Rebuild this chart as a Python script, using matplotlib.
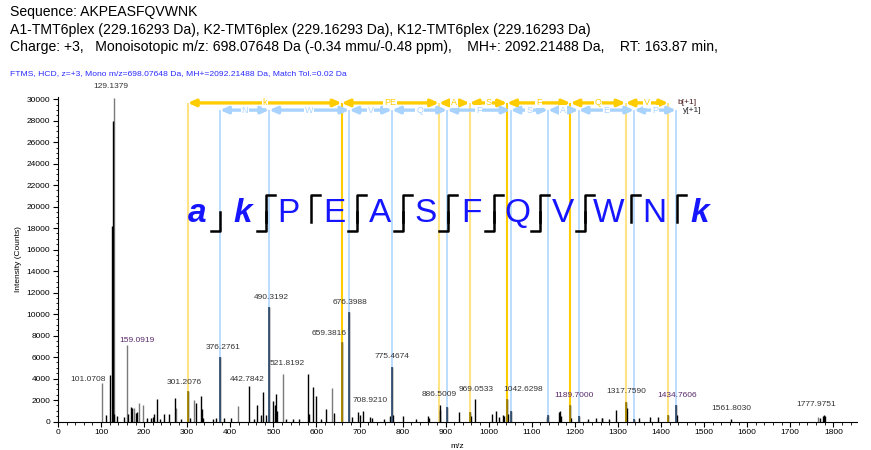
import matplotlib
matplotlib.use("Agg")
import matplotlib.pyplot as plt
from matplotlib.lines import Line2D

plt.rcParams['font.family'] = ['Liberation Sans', 'DejaVu Sans']

# ---- spectrum peaks (m/z, intensity) ----
black_mz = [110.5, 120.08, 126.13, 127.13, 130.14, 137.5, 153, 162, 168.4, 172, 180, 184,
            206, 215, 221, 224, 229.5, 237, 245, 257, 272, 285, 301.21, 306, 321, 331, 334,
            337, 360, 367, 376.28, 385, 402, 442.78, 454, 461, 471, 476, 484, 490.32, 500,
            503, 506, 509, 530, 545, 560, 580, 583, 592, 598, 610, 623, 640, 658.46, 676.40,
            682, 697, 700, 708.92, 725, 730, 758, 771, 775.47, 778, 800, 831, 858, 862,
            886.50, 888, 903.53, 930, 955.6, 958, 969.05, 1007, 1017, 1025, 1032, 1036,
            1042.63, 1045, 1050.6, 1136, 1138, 1164, 1166, 1168, 1189.70, 1192, 1208.7, 1230,
            1250, 1262, 1264, 1280, 1295, 1317.76, 1320, 1337.7, 1350, 1375, 1392, 1416.8,
            1434.76, 1437, 1561.80, 1768, 1775, 1777.98, 1781]
black_int = [600, 4300, 18200, 28000, 700, 550, 450, 700, 1350, 1300, 800, 900,
             350, 300, 400, 700, 2100, 250, 700, 700, 2200, 250, 2800, 300, 1750, 2350, 1200,
             350, 250, 350, 6000, 300, 300, 3300, 250, 1550, 650, 2700, 600, 10700, 1900,
             1550, 2550, 1000, 250, 200, 200, 4400, 700, 3200, 2400, 250, 1150, 800, 7400, 10200,
             450, 900, 600, 1000, 450, 300, 200, 500, 5100, 600, 500, 200, 500, 300,
             1540, 1100, 1380, 850, 900, 500, 2050, 700, 1000, 400, 600, 500,
             2050, 700, 950, 400, 650, 900, 950, 500, 1490, 300, 500, 200,
             300, 350, 350, 200, 1050, 1800, 1300, 250, 300, 400, 400, 650,
             1500, 600, 250, 350, 500, 570, 550]

grey_mz = [101.07, 129.14, 159.09, 176, 188, 198, 275, 315, 418, 521.82, 636, 1765]
grey_int = [3600, 30100, 7100, 1300, 1700, 1500, 1300, 2000, 1450, 4400, 3100, 450]

# ---- fragment ions ----
b_ions = [301.21, 658.47, 884.51, 955.55, 1042.58, 1189.65, 1317.71, 1416.78]
b_strong = [658.47, 1042.58, 1189.65]
b_seg_labels = ['k', 'PE', 'A', 'S', 'F', 'Q', 'V']
y_ions = [376.28, 490.32, 676.40, 775.47, 903.53, 1050.59, 1137.63, 1208.66, 1337.71, 1434.76]
y_seg_labels = ['N', 'W', 'V', 'Q', 'F', 'S', 'A', 'E', 'P']

# ---- peak labels: (m/z, intensity, text, dx px, dy px) ----
label_mz = [129.14, 101.07, 159.09, 301.21, 376.28, 442.78, 490.32, 521.82, 658.46, 676.40,
            708.92, 775.47, 886.50, 969.05, 1042.63, 1189.70, 1317.76, 1434.76, 1561.80, 1777.98]
label_int = [30100, 3600, 7100, 2800, 6000, 3300, 10700, 4400, 7400, 10200,
             1000, 5100, 1540, 2050, 2050, 1490, 1800, 1500, 250, 570]
label_txt = ['129.1379', '101.0708', '159.0919', '301.2076', '376.2761', '442.7842', '490.3192',
             '521.8192', '659.3816', '676.3988', '708.9210', '775.4674', '886.5009', '969.0533',
             '1042.6298', '1189.7000', '1317.7590', '1434.7606', '1561.8030', '1777.9751']
label_dx = [-3, -14, 10, -4, 3, -2, 2, 4, -12, 1, 7, 0, -1, 1, 16, 4, 1, 1, 1, -8]
label_dy = [8, 0, 1, 5, 6, 3, 6, 7, 5, 6, 7, 7, 7, 6, 6, 6, 7, 6, 7, 7]
purple_labels = ['159.0919', '1189.7000', '1434.7606']

sequence = ['a', 'k', 'P', 'E', 'A', 'S', 'F', 'Q', 'V', 'W', 'N', 'k']
b_gaps = [1, 2, 4, 5, 6, 7, 8, 9]
y_gaps = [2, 3, 4, 5, 6, 7, 8, 9, 10, 11]

W, H = 871, 450
fig = plt.figure(figsize=(W / 100, H / 100), dpi=100)
ax = fig.add_axes([58 / W, 28.5 / H, 799 / W, 324.5 / H])
ax.set_xlim(0, 1855)
ax.set_ylim(0, 30200)

# ion lines
for mz in b_ions:
    c = '#FFCC00' if mz in b_strong else '#FFE385'
    ax.vlines(mz, 0, 29650, color=c, lw=1.5, zorder=1)
for mz in y_ions:
    ax.vlines(mz, 0, 28980, color='#A9D3FF', lw=1.1, zorder=1)

# peaks
ax.vlines(grey_mz, 0, grey_int, color='#7a7a7a', lw=1.0, zorder=2)
ax.vlines(black_mz, 0, black_int, color='black', lw=1.0, zorder=3)
for mz, it in zip(black_mz, black_int):
    if any(abs(mz - b) < 1.5 for b in b_ions):
        ax.vlines(mz, 0, it, color='#a88a00', lw=1.3, zorder=4)
    elif any(abs(mz - y) < 1.5 for y in y_ions):
        ax.vlines(mz, 0, it, color='#3c5878', lw=1.3, zorder=4)

for mz, it, t, dx, dy in zip(label_mz, label_int, label_txt, label_dx, label_dy):
    col = '#5a2a6a' if t in purple_labels else '#333333'
    ax.annotate(t, (mz, it), xytext=(dx, dy), textcoords='offset pixels',
                ha='center', va='bottom', fontsize=6, color=col, zorder=6)

# fragment bars
def frag_bar(ions, labels, y, color):
    for i, lab in enumerate(labels):
        x0, x1 = ions[i], ions[i + 1]
        ax.annotate('', xy=(x1, y), xytext=(x0, y),
                    arrowprops=dict(arrowstyle='<|-|>,head_length=0.45,head_width=0.2',
                                    color=color, lw=2.4, shrinkA=0, shrinkB=0),
                    annotation_clip=False, zorder=5)
        ax.text((x0 + x1) / 2, y, lab, ha='center', va='center', fontsize=6.5, color=color,
                bbox=dict(facecolor='white', edgecolor='none', pad=0.6), zorder=6)

frag_bar(b_ions, b_seg_labels, 29650, '#FFCC00')
frag_bar(y_ions, y_seg_labels, 28980, '#A9D3FF')
ax.text(1437, 29650, 'b[+1]', fontsize=6, color='#4a1a1a', va='center', ha='left')
ax.text(1452, 28900, 'y[+1]', fontsize=6, color='#222222', va='center', ha='left')

# axes styling
for s in ['top', 'right']:
    ax.spines[s].set_visible(False)
ax.set_xticks(range(0, 1801, 100))
ax.set_xticks(range(0, 1855, 20), minor=True)
ax.set_yticks(range(0, 30001, 2000))
ax.set_yticks(range(0, 30001, 500), minor=True)
ax.tick_params(labelsize=6, length=3.5, width=0.8, pad=2)
ax.tick_params(which='minor', length=1.8, width=0.6)
ax.set_xlabel('m/z', fontsize=6, labelpad=5)
ax.set_ylabel('Intensity (Counts)', fontsize=6, labelpad=3)

# header
fig.text(10 / W, 1 - 12 / H, 'Sequence: AKPEASFQVWNK', fontsize=10.1, va='center')
fig.text(10 / W, 1 - 30 / H, 'A1-TMT6plex (229.16293 Da), K2-TMT6plex (229.16293 Da), '
         'K12-TMT6plex (229.16293 Da)', fontsize=10.1, va='center')
fig.text(10 / W, 1 - 47 / H, 'Charge: +3,   Monoisotopic m/z: 698.07648 Da (-0.34 mmu/-0.48 ppm),'
         '    MH+: 2092.21488 Da,    RT: 163.87 min,', fontsize=10.1, va='center')
fig.text(10 / W, 1 - 74 / H, 'FTMS, HCD, z=+3, Mono m/z=698.07648 Da, MH+=2092.21488 Da, '
         'Match Tol.=0.02 Da', fontsize=6.1, va='center', color='#2a2aff')

# sequence with fragment marks
step = 45.7
for i, aa in enumerate(sequence):
    x = 197 + step * i
    bold = aa.islower()
    fig.text(x / W, 1 - 214 / H, aa, fontsize=24, ha='center', va='center', color='#1515ff',
             fontweight='bold' if bold else 'normal', fontstyle='italic' if bold else 'normal')
for g in b_gaps:
    x = 197 + step * (g - 0.5)
    fig.add_artist(Line2D([x / W, x / W, (x - 9) / W], [1 - 212 / H, 1 - 231 / H, 1 - 231 / H],
                          color='black', lw=1.8))
for g in y_gaps:
    x = 197 + step * (g - 0.5)
    fig.add_artist(Line2D([x / W, x / W, (x + 9) / W], [1 - 222 / H, 1 - 195 / H, 1 - 195 / H],
                          color='black', lw=1.8))

fig.savefig('out.png', dpi=100)
